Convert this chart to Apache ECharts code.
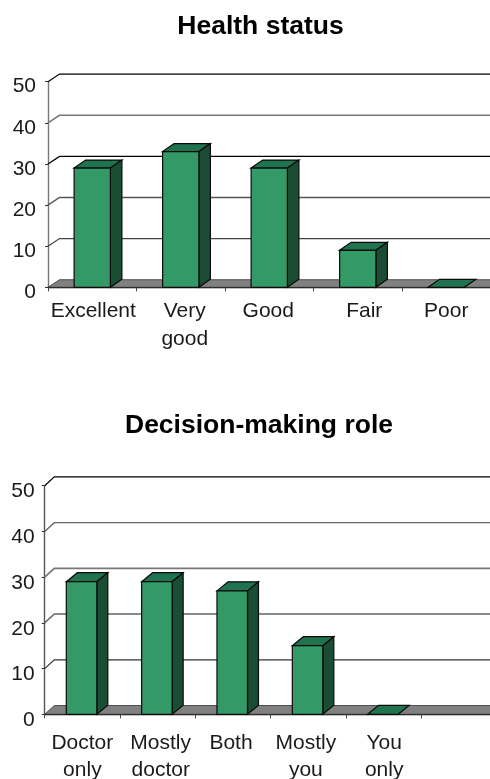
<!DOCTYPE html>
<html>
<head>
<meta charset="utf-8">
<style>html,body{margin:0;padding:0;background:#fff}#main{width:490px;height:779px}</style>
<script src="https://cdn.jsdelivr.net/npm/echarts@6/dist/echarts.min.js"></script>
</head>
<body>
<div id="main"></div>
<script>
const yTicks = [0, 10, 20, 30, 40, 50];

const healthCategories = ["Excellent", "Very\ngood", "Good", "Fair", "Poor"];
const healthValues = [29, 33, 29, 9, 0];

const roleCategories = ["Doctor\nonly", "Mostly\ndoctor", "Both", "Mostly\nyou", "You\nonly", ""];
const roleValues = [29, 29, 27, 15, 0, null];

const FONT = '"Liberation Sans", Arial, sans-serif';
const FRONT = "#339966", SIDE = "#1a4d33", ROOF = "#20734f", FLOOR = "#808080";

// one fake-3d panel: walls + floor + boxes, all positioned via api.coord
function panel(i, cats, vals, cfg) {
  const dx = cfg.dx, dy = cfg.dy;
  const grid = { left: cfg.left, top: cfg.top, width: cfg.width, height: cfg.height, outerBoundsMode: "none" };
  const xAxis = {
    gridIndex: i,
    type: "category",
    data: cats.map((c, k) => ({
      value: c,
      textStyle: { padding: cfg.labelPad[k] },
    })),
    axisLine: { show: true, lineStyle: { color: "#000", width: 1.3 } },
    axisTick: { show: true, alignWithLabel: false, length: 4, lineStyle: { color: "#444", width: 1 } },
    axisLabel: {
      interval: 0, color: "#1a1a1a", fontFamily: FONT, fontSize: 21,
      lineHeight: cfg.xLine, margin: cfg.xMargin, hideOverlap: false,
    },
    splitLine: { show: false },
  };
  const yAxis = {
    gridIndex: i,
    type: "value",
    min: 0, max: 50, interval: 10,
    axisLine: { show: true, lineStyle: { color: cfg.axisColor, width: 1.4 } },
    axisTick: { show: true, length: 3, lineStyle: { color: "#333", width: 1 } },
    // top-anchored with a short line box, pushes digits just under the tick like the original
    axisLabel: {
      color: "#1a1a1a", fontFamily: FONT, fontSize: 21, margin: cfg.yMargin,
      verticalAlign: "top", lineHeight: cfg.yLine,
    },
    splitLine: { show: false },
  };
  const walls = {
    type: "custom", xAxisIndex: i, yAxisIndex: i, z: 1, silent: true,
    data: yTicks.map((v) => [0, v]),
    renderItem(params, api) {
      const v = api.value(1);
      const band = api.size([1, 0])[0];
      const c = api.coord([0, v]);
      const x0 = c[0] - band / 2;
      const x1 = x0 + band * cats.length + dx;
      const k = yTicks.indexOf(v);
      if (v === 0) {
        return {
          type: "polygon",
          shape: { points: [[x0, c[1]], [x0 + dx, c[1] + dy], [x1, c[1] + dy], [x1 - dx, c[1]]] },
          style: { fill: FLOOR, stroke: "#333", lineWidth: 0.8 },
        };
      }
      return {
        type: "polyline",
        shape: { points: [[x0, c[1]], [x0 + dx, c[1] + dy], [x1, c[1] + dy]] },
        style: { fill: null, stroke: cfg.gridColors[k], lineWidth: cfg.gridWidths[k] },
      };
    },
  };
  const boxes = {
    type: "custom", xAxisIndex: i, yAxisIndex: i, z: 3, silent: true,
    data: vals.map((v, k) => [k, v]),
    renderItem(params, api) {
      if (api.value(1) === null || isNaN(api.value(1))) return null;
      const top = api.coord([api.value(0), api.value(1)]);
      const base = api.coord([api.value(0), 0]);
      const w = api.size([1, 0])[0] * cfg.barRatio;
      const l = top[0] - w / 2 + cfg.barShift, r = l + w;
      const bdx = cfg.barDx, bdy = cfg.barDy;
      const line = { stroke: "#0a0a0a", lineWidth: 1.2 };
      const kids = [
        { type: "polygon", shape: { points: [[l, top[1]], [l + bdx, top[1] + bdy], [r + bdx, top[1] + bdy], [r, top[1]]] },
          style: Object.assign({ fill: ROOF }, line) },
      ];
      if (base[1] - top[1] > 0.5) {
        kids.push(
          { type: "polygon", shape: { points: [[r, top[1]], [r + bdx, top[1] + bdy], [r + bdx, base[1] + bdy], [r, base[1]]] },
            style: Object.assign({ fill: SIDE }, line) },
          { type: "polygon", shape: { points: [[l, top[1]], [r, top[1]], [r, base[1]], [l, base[1]]] },
            style: Object.assign({ fill: FRONT }, line) }
        );
      }
      return { type: "group", children: kids };
    },
  };
  return { grid, xAxis, yAxis, series: [walls, boxes] };
}

const top1 = panel(0, healthCategories, healthValues, {
  left: 48, top: 81.7, width: 442.5, height: 205.6,
  dx: 11.5, dy: -7.6, barDx: 11.5, barDy: -8, barRatio: 0.41, barShift: 0,
  yMargin: 12, yLine: 10, xMargin: 10, xLine: 28, axisColor: "#777",
  gridColors: ["", "#444", "#555", "#000", "#777", "#000"],
  gridWidths: [0, 1.2, 1.4, 1.3, 1.6, 1.2],
  labelPad: [[0, 0, 0, 2], [0, 0, 0, 8], [0, 2, 0, 0], [0, 0, 0, 13], [0, 0, 0, 0]],
});
const top2 = panel(1, roleCategories, roleValues, {
  left: 44.7, top: 485.7, width: 452, height: 228.6,
  dx: 9.6, dy: -8.8, barDx: 11, barDy: -9, barRatio: 0.405, barShift: -0.8,
  yMargin: 10, yLine: 12, xMargin: 15, xLine: 27.5, axisColor: "#555",
  gridColors: ["", "#333", "#666", "#777", "#666", "#000"],
  gridWidths: [0, 1.2, 1.4, 1.8, 1.4, 1.2],
  labelPad: [[0, 0, 0, 0], [0, 0, 0, 6], [0, 4, 0, 0], [0, 5, 0, 0], [0, 0, 0, 1], [0, 0, 0, 0]],
});

const titleStyle = { color: "#000", fontFamily: FONT, fontSize: 26.5, fontWeight: "bold" };

const chart = echarts.init(document.getElementById("main"), null, { renderer: "canvas" });
chart.setOption({
  animation: false,
  backgroundColor: "#fff",
  title: [
    { text: "Health status", left: 260.5, top: 13, padding: 0, textAlign: "center", textStyle: titleStyle },
    { text: "Decision-making role", left: 259, top: 412, padding: 0, textAlign: "center", textStyle: titleStyle },
  ],
  grid: [top1.grid, top2.grid],
  xAxis: [top1.xAxis, top2.xAxis],
  yAxis: [top1.yAxis, top2.yAxis],
  series: top1.series.concat(top2.series),
});
</script>
</body>
</html>
